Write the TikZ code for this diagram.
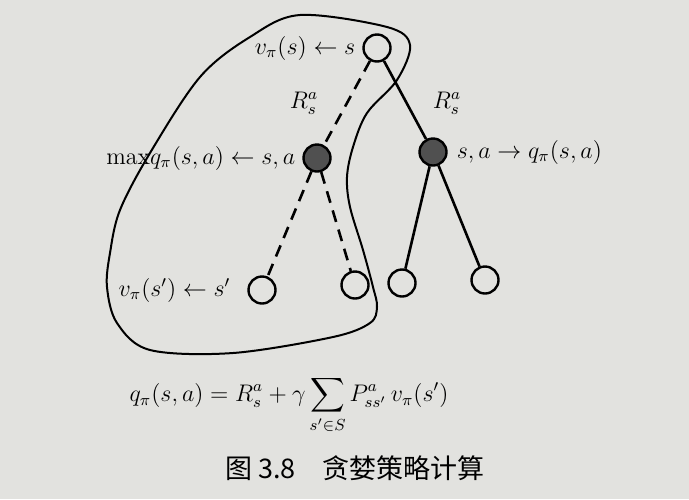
\documentclass[tikz,border=0pt]{standalone}
\usepackage{fontspec}
\newfontfamily\cjk{Noto Sans CJK SC}
\usepackage{amsmath, amssymb}
\usetikzlibrary{positioning}
\definecolor{paper}{RGB}{226,226,223}
\definecolor{dot}{RGB}{80,80,80}
\tikzstyle{state}=[circle,draw,line width=1.2pt,minimum size=13.5pt,inner sep=0pt]
\tikzstyle{act}=[circle,draw,line width=1.2pt,fill=dot,minimum size=13.5pt,inner sep=0pt]
\tikzstyle{solidedge}=[line width=1.3pt]
\tikzstyle{dashedge}=[line width=1.3pt,dash pattern=on 6pt off 4pt]

\begin{document}
\begin{tikzpicture}[x=0.5pt,y=-0.5pt,font=\fontsize{12}{14}\selectfont]
%paper
\fill[paper] (0,0) rectangle (689,499);
\useasboundingbox (0,0) rectangle (689,499);

%states and actions
\node[state] (root) at (377,48) {};
\node[act] (qleft) at (317,158) {};
\node[act] (qright) at (433,152) {};
\node[state] (sa) at (262,290) {};
\node[state] (sb) at (355,285) {};
\node[state] (sc) at (402,283) {};
\node[state] (sd) at (485,280) {};

%edges
\draw[dashedge] (root) -- (qleft);
\draw[solidedge] (root) -- (qright);
\draw[dashedge] (qleft) -- (sa);
\draw[dashedge] (qleft) -- (sb);
\draw[solidedge] (qright) -- (sc);
\draw[solidedge] (qright) -- (sd);

%labels
\node[left=0pt of root] (lroot) {$v_\pi(s)\leftarrow s$};
\node[left=0pt of qleft] (lqleft) {$\mathrm{max}q_\pi(s,a)\leftarrow s,a$};
\node[right=1pt of qright] (lqright) {$s,a\rightarrow q_\pi(s,a)$};
\node[left=5pt of sa] (lsa) {$v_\pi(s')\leftarrow s'$};
\node (rleft) at (304,103) {$R_s^a$};
\node (rright) at (447,103) {$R_s^a$};

%greedy region
\draw[line width=1pt] plot[smooth cycle, tension=0.55] coordinates {
  (300,15) (387,27) (410,45) (397,80) (367,113) (353,147) (347,177)
  (350,207) (363,250) (373,287) (377,307) (370,323) (333,337) (233,353)
  (150,350) (117,323) (107,287) (110,253) (120,210) (150,153) (200,77)
  (250,37)};

%formula
\node (eq) at (289,405) {$\displaystyle q_\pi(s,a)=R_s^a+\gamma\sum_{s'\in S}P_{ss'}^a\,v_\pi(s')$};

%caption
\node[font=\fontsize{13.5}{16}\selectfont] (cap) at (355,468) {\cjk 图 3.8\quad 贪婪策略计算};
\end{tikzpicture}
\end{document}
